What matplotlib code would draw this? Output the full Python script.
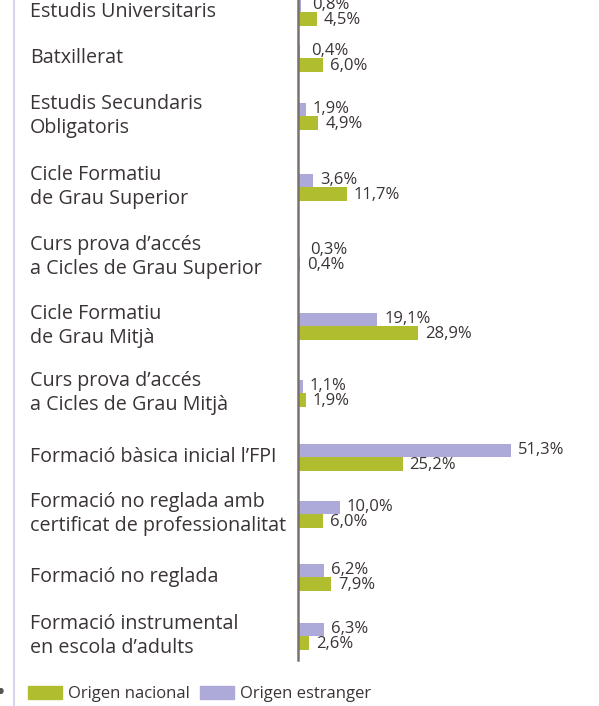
import matplotlib.pyplot as plt
from matplotlib.patches import Patch, Circle
from matplotlib.transforms import blended_transform_factory

# data (% of students)
categories = [
    "Estudis Universitaris",
    "Batxillerat",
    "Estudis Secundaris\nObligatoris",
    "Cicle Formatiu\nde Grau Superior",
    "Curs prova d\u2019acc\u00e9s\na Cicles de Grau Superior",
    "Cicle Formatiu\nde Grau Mitj\u00e0",
    "Curs prova d\u2019acc\u00e9s\na Cicles de Grau Mitj\u00e0",
    "Formaci\u00f3 b\u00e0sica inicial l\u2019FPI",
    "Formaci\u00f3 no reglada amb\ncertificat de professionalitat",
    "Formaci\u00f3 no reglada",
    "Formaci\u00f3 instrumental\nen escola d\u2019adults",
]
nacional = [4.5, 6.0, 4.9, 11.7, 0.4, 28.9, 1.9, 25.2, 6.0, 7.9, 2.6]
estranger = [0.8, 0.4, 1.9, 3.6, 0.3, 19.1, 1.1, 51.3, 10.0, 6.2, 6.3]
nacional_labels = ["4,5%", "6,0%", "4,9%", "11,7%", "0,4%", "28,9%",
                   "1,9%", "25,2%", "6,0%", "7,9%", "2,6%"]
estranger_labels = ["0,8%", "0,4%", "1,9%", "3,6%", "0,3%", "19,1%",
                    "1,1%", "51,3%", "10,0%", "6,2%", "6,3%"]

# layout: row centres in pixels from the top (rows are not evenly spaced)
row_y = [12, 58, 116, 187, 257, 326, 393, 457, 514, 577, 636]

GREEN = "#b0bd2e"
LAVENDER = "#ada9d8"
TEXT = "#3b3434"
W, H = 599, 706
BAR_H = 13.5

plt.rcParams["font.family"] = ["Open Sans", "DejaVu Sans"]

fig = plt.figure(figsize=(W / 100, H / 100), dpi=100)
ax = fig.add_axes([298 / W, 0, 1 - 298 / W, 1])
ax.set_xlim(0, (W - 298) / 4.15)
ax.set_ylim(H, 0)

ax.barh([y - BAR_H / 2 for y in row_y], estranger, height=BAR_H, color=LAVENDER)
ax.barh([y + BAR_H / 2 for y in row_y], nacional, height=BAR_H, color=GREEN)

px = 1 / 4.15  # one pixel in data units
for i, y in enumerate(row_y):
    # small bars: push the top label a bit further right, like the original
    dx = 7 if estranger[i] > 1 else 11
    ax.text(estranger[i] + dx * px, y - BAR_H / 2, estranger_labels[i],
            va="center", ha="left", fontsize=12, color=TEXT)
    ax.text(nacional[i] + 7 * px, y + BAR_H / 2 + 1, nacional_labels[i],
            va="center", ha="left", fontsize=12, color=TEXT)

# category names on the left
tr = blended_transform_factory(fig.transFigure, ax.transData)
for i, y in enumerate(row_y):
    ax.text(30 / W, y, categories[i], transform=tr, ha="left", va="center",
            fontsize=14.2, color=TEXT, linespacing=1.3, clip_on=False)

for s in ["top", "right", "bottom"]:
    ax.spines[s].set_visible(False)
ax.spines["left"].set_color("#7a716f")
ax.spines["left"].set_linewidth(1.8)
ax.spines["left"].set_bounds(0, 660)
ax.set_xticks([])
ax.set_yticks([])
ax.patch.set_alpha(0)

# thin lavender rule on the far left, and the cut-off dot beside it
fig.add_artist(plt.Line2D([14 / W, 14 / W], [0, 1], color="#d6d3ee", lw=1.5))
fig.add_artist(Circle((1 / W, 1 - 691 / H), 2 / W, color="#555555",
                      transform=fig.transFigure))

handles = [Patch(color=GREEN, label="Origen nacional"),
           Patch(color=LAVENDER, label="Origen estranger")]
fig.legend(handles=handles, loc="center left", ncol=2, frameon=False,
           bbox_to_anchor=(28 / W, 1 - 694 / H), borderpad=0, borderaxespad=0,
           handlelength=2.05, handleheight=0.85, handletextpad=0.35,
           columnspacing=0.6, fontsize=12, labelcolor=TEXT)

fig.savefig("out.png", dpi=100)
